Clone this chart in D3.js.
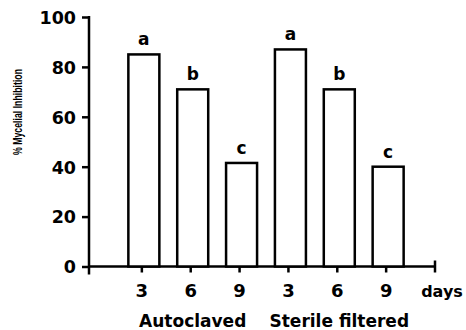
<!DOCTYPE html>
<html>
<head>
<meta charset="utf-8">
<script src="https://cdn.jsdelivr.net/npm/d3@7"></script>
<style>
  body { margin: 0; background: #fff; }
  text { font-family: "DejaVu Sans", sans-serif; font-weight: bold; fill: #000; }
</style>
</head>
<body>
<div id="chart"></div>
<script>
// data
const groups = ["Autoclaved", "Sterile filtered"];
const days = ["3", "6", "9"];
const values = [85, 71, 41.5, 87, 71, 40];
const letters = ["a", "b", "c", "a", "b", "c"];
const yTicks = [0, 20, 40, 60, 80, 100];

const width = 466, height = 330;

const svg = d3.select("#chart").append("svg")
  .attr("width", width)
  .attr("height", height);

// position 0 is the origin, 1..6 are the bars, 7 is the "days" end tick
let x = d3.scaleLinear().domain([0, 7]).range([93, 435]);
let y = d3.scaleLinear().domain([0, 100]).range([266.5, 17]);

const barW = 31;
const barShift = 2;

// y axis
const yAxis = svg.append("g")
  .attr("transform", "translate(89,0)")
  .call(d3.axisLeft(y).tickValues(yTicks).tickSize(7).tickPadding(6));
yAxis.select(".domain").remove();
yAxis.selectAll(".tick line").attr("stroke", "#000").attr("stroke-width", 2.5);
yAxis.selectAll(".tick text")
  .style("font-size", "17.5px")
  .attr("dy", "0.36em");
svg.append("line")
  .attr("x1", 89).attr("x2", 89)
  .attr("y1", y(100) - 1).attr("y2", y(0) + 8)
  .attr("stroke", "#000").attr("stroke-width", 2.5);

// x axis
svg.append("line")
  .attr("x1", 88).attr("x2", x(7) + 1)
  .attr("y1", y(0)).attr("y2", y(0))
  .attr("stroke", "#000").attr("stroke-width", 2.5);

const tickPos = d3.range(1, 8);
svg.append("g").selectAll("line")
  .data(tickPos)
  .enter().append("line")
  .attr("x1", d => x(d)).attr("x2", d => x(d))
  .attr("y1", d => d === 7 ? y(0) - 6 : y(0))
  .attr("y2", y(0) + 6)
  .attr("stroke", "#000").attr("stroke-width", 2.5);

const dayLabels = groups.flatMap(() => days).concat(["days"]);
svg.append("g").selectAll("text")
  .data(dayLabels)
  .enter().append("text")
  .attr("x", (d, i) => i === 6 ? x(i + 1) + 7 : x(i + 1))
  .attr("y", 297)
  .attr("text-anchor", "middle")
  .style("font-size", (d, i) => i === 6 ? "16px" : "18px")
  .text(d => d);

// group names under the day labels
svg.append("g").selectAll("text")
  .data(groups)
  .enter().append("text")
  .attr("x", (d, i) => x(i * 3 + 2) + 2)
  .attr("y", 327)
  .attr("text-anchor", "middle")
  .style("font-size", "17px")
  .text(d => d);

// bars
svg.append("g").selectAll("rect")
  .data(values)
  .enter().append("rect")
  .attr("x", (d, i) => x(i + 1) + barShift - barW / 2)
  .attr("y", d => y(d))
  .attr("width", barW)
  .attr("height", d => y(0) - y(d))
  .attr("fill", "#fff")
  .attr("stroke", "#000")
  .attr("stroke-width", 2.5);

// significance letters
svg.append("g").selectAll("text")
  .data(values)
  .enter().append("text")
  .attr("x", (d, i) => x(i + 1) + barShift)
  .attr("y", d => y(d) - 9)
  .attr("text-anchor", "middle")
  .style("font-size", "17px")
  .text((d, i) => letters[i]);

// y axis title
svg.append("text")
  .attr("transform", "translate(22,112) rotate(-90)")
  .attr("text-anchor", "middle")
  .attr("textLength", 86)
  .attr("lengthAdjust", "spacingAndGlyphs")
  .style("font-family", "'Liberation Sans', sans-serif")
  .style("font-size", "12.5px")
  .text("% Mycelial Inhibition");
</script>
</body>
</html>
